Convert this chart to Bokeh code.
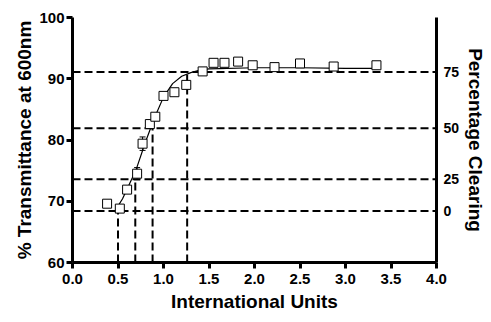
from bokeh.plotting import figure
from bokeh.models import (Range1d, LinearAxis, FixedTicker, ColumnDataSource,
                          Whisker, TeeHead, CustomJSTickFormatter)
from bokeh.embed import file_html
from bokeh.resources import INLINE

# measured data (International Units vs % transmittance)
iu = [0.38, 0.52, 0.60, 0.71, 0.77, 0.85, 0.91, 1.00, 1.12, 1.25, 1.43, 1.55, 1.67, 1.82, 1.98, 2.22, 2.50, 2.87, 3.34]
trans = [69.6, 68.8, 71.9, 74.5, 79.4, 82.6, 83.8, 87.2, 87.8, 89.0, 91.2, 92.6, 92.6, 92.8, 92.2, 91.9, 92.5, 92.0, 92.2]
err = [0.3, 0.3, 0.4, 1.0, 1.1, 0.4, 0.5, 0.4, 0.3, 0.4, 0.6, 0.5, 0.3, 0.3, 0.3, 0.3, 0.3, 0.3, 0.6]

# fitted curve
fit_x = [0.50, 0.55, 0.60, 0.70, 0.80, 0.90, 1.00, 1.10, 1.20, 1.30, 1.40, 1.50, 2.00, 2.50, 3.00, 3.34]
fit_y = [69.2, 70.4, 72.0, 75.2, 79.6, 83.6, 87.0, 89.2, 90.4, 91.0, 91.4, 91.6, 91.8, 91.8, 91.7, 91.7]

# percentage clearing reference levels
clear_labels = ["0", "25", "50", "75"]
clear_trans = [68.4, 73.6, 81.9, 91.1]
clear_iu = [0.50, 0.69, 0.88, 1.26]

x_ticks = [0.0, 0.5, 1.0, 1.5, 2.0, 2.5, 3.0, 3.5, 4.0]
y_ticks = [60, 70, 80, 90, 100]

p = figure(width=489, height=320, output_backend="svg", toolbar_location=None,
           x_range=Range1d(0, 4), y_range=Range1d(60, 100),
           min_border_left=72, min_border_right=51, min_border_top=17, min_border_bottom=58)
p.outline_line_color = None
p.grid.visible = False
p.background_fill_color = "white"

FONT = "Liberation Sans"

# dashed reference lines
p.segment(x0=[0] * 4, y0=clear_trans, x1=[4] * 4, y1=clear_trans,
          line_color="black", line_width=2, line_dash="8 4")
p.segment(x0=clear_iu, y0=[60] * 4, x1=clear_iu, y1=clear_trans,
          line_color="black", line_width=2, line_dash="8 4")

# fit curve
p.line(fit_x, fit_y, line_color="black", line_width=1.2)

# error bars
src = ColumnDataSource(dict(x=iu, y=trans,
                            lo=[t - e for t, e in zip(trans, err)],
                            hi=[t + e for t, e in zip(trans, err)]))
w = Whisker(source=src, base="x", lower="lo", upper="hi", line_color="black", line_width=1,
            upper_head=TeeHead(size=6, line_color="black", line_width=1),
            lower_head=TeeHead(size=6, line_color="black", line_width=1))
p.add_layout(w)

p.scatter("x", "y", source=src, marker="square", size=9, fill_color="white",
          line_color="black", line_width=1)

# axes styling
for ax in (p.xaxis[0], p.yaxis[0]):
    ax.axis_line_width = 3
    ax.major_tick_line_width = 3
    ax.major_tick_out = 6
    ax.major_tick_in = 0
    ax.minor_tick_out = 0
    ax.minor_tick_in = 0
    ax.major_label_text_font = FONT
    ax.major_label_text_font_style = "bold"
    ax.major_label_text_font_size = "15px"
    ax.major_label_text_color = "black"
    ax.axis_label_text_font = FONT
    ax.axis_label_text_font_style = "bold"
    ax.axis_label_text_font_size = "19px"
    ax.axis_label_text_color = "black"

p.xaxis.ticker = FixedTicker(ticks=x_ticks)
p.xaxis.formatter = CustomJSTickFormatter(code="return tick.toFixed(1);")
p.xaxis.axis_label = "International Units"
p.xaxis.axis_label_standoff = 4
p.xaxis.major_label_standoff = 5

p.yaxis.ticker = FixedTicker(ticks=y_ticks)
p.yaxis.axis_label = "% Transmittance at 600nm"
p.yaxis.axis_label_standoff = 1
p.yaxis.major_label_standoff = 2

# right axis: percentage clearing
ra = LinearAxis(ticker=FixedTicker(ticks=clear_trans),
                major_label_overrides={t: l for t, l in zip(clear_trans, clear_labels)},
                axis_label="Percentage Clearing")
ra.axis_line_width = 3
ra.major_tick_out = 0
ra.major_tick_in = 0
ra.minor_tick_out = 0
ra.minor_tick_in = 0
ra.major_label_text_font = FONT
ra.major_label_text_font_style = "bold"
ra.major_label_text_font_size = "14px"
ra.major_label_text_color = "black"
ra.major_label_standoff = 7
ra.axis_label_text_font = FONT
ra.axis_label_text_font_style = "bold"
ra.axis_label_text_font_size = "19px"
ra.axis_label_text_color = "black"
ra.axis_label_standoff = 3
p.add_layout(ra, "right")

open("out.html", "w").write(file_html(p, INLINE))
